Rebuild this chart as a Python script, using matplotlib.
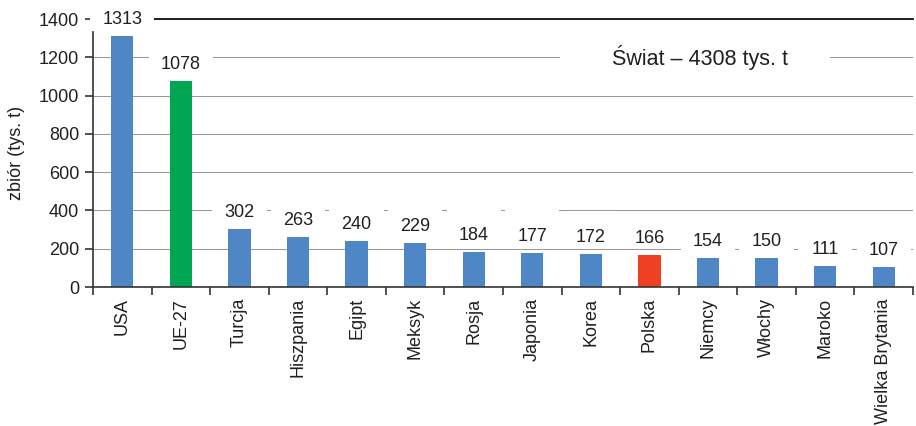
import matplotlib
matplotlib.use("Agg")
import matplotlib.pyplot as plt
import numpy as np

categories = ["USA", "UE-27", "Turcja", "Hiszpania", "Egipt", "Meksyk", "Rosja",
              "Japonia", "Korea", "Polska", "Niemcy", "Włochy", "Maroko", "Wielka Brytania"]
values = [1313, 1078, 302, 263, 240, 229, 184, 177, 172, 166, 154, 150, 111, 107]
yticks = [0, 200, 400, 600, 800, 1000, 1200, 1400]
ylabel = "zbiór (tys. t)"
world_label = "Świat – 4308 tys. t"

BLUE = "#4F86C6"
GREEN = "#00A651"
RED = "#EE4124"
colors = [BLUE] * len(categories)
colors[categories.index("UE-27")] = GREEN
colors[categories.index("Polska")] = RED

plt.rcParams['font.family'] = ['Liberation Sans', 'DejaVu Sans']
TXT = "#231F20"

fig = plt.figure(figsize=(9.16, 4.26), dpi=100)
ax = fig.add_axes([93/916, (426-287)/426, (913-93)/916, (287-19)/426])

x = np.arange(len(categories))
ax.bar(x, values, width=0.38, color=colors, linewidth=0, zorder=2)

ax.set_xlim(-0.5, len(categories) - 0.5)
ax.set_ylim(0, 1400)
ax.set_yticks(yticks)
ax.set_yticklabels([str(t) for t in yticks], fontsize=13, color=TXT)
ax.grid(axis='y', color="#999999", linewidth=0.75, zorder=0)
ax.set_axisbelow(True)

ax.set_xticks(x)
ax.set_xticklabels(categories, rotation=90, fontsize=13, color=TXT)
ax.tick_params(axis='x', which='major', length=0, pad=8)
ax.set_xticks(np.arange(len(categories) + 1) - 0.5, minor=True)
ax.tick_params(axis='x', which='minor', length=6, width=1.2, color="#333333", direction='out')
ax.tick_params(axis='y', length=6, width=1.2, color="#333333", pad=4)

ax.spines['right'].set_visible(False)
ax.spines['top'].set_color("#111111")
ax.spines['top'].set_linewidth(1.3)
ax.spines['left'].set_color("#333333")
ax.spines['left'].set_linewidth(1.2)
ax.spines['left'].set_bounds(0, 1332)
ax.spines['bottom'].set_color("#333333")
ax.spines['bottom'].set_linewidth(1.2)

ax.set_ylabel(ylabel, fontsize=13, color=TXT, labelpad=10)

# white masks behind value labels (hide gridlines), then labels
cat_px = (913 - 93) / len(categories)
for xi, v in zip(x, values):
    lab = str(v)
    w = (len(lab) * 9.8 + 25) / cat_px
    ax.bar(xi, 186, bottom=v + 40, width=w, color="white", linewidth=0,
           zorder=2.6, clip_on=False)
    ax.annotate(lab, (xi, v), xytext=(0, 8.5), textcoords='offset points',
                ha='center', va='baseline', fontsize=13, color=TXT, zorder=4,
                annotation_clip=False)

# world total label with white box over the gridline
ax.bar(9.77, 100, bottom=1150, width=(830 - 560) / cat_px, color="white",
       linewidth=0, zorder=2.6)
ax.text(9.86, 1200, world_label, ha='center', va='center', fontsize=15.5, color=TXT, zorder=4)

fig.savefig("out.png", dpi=100)
